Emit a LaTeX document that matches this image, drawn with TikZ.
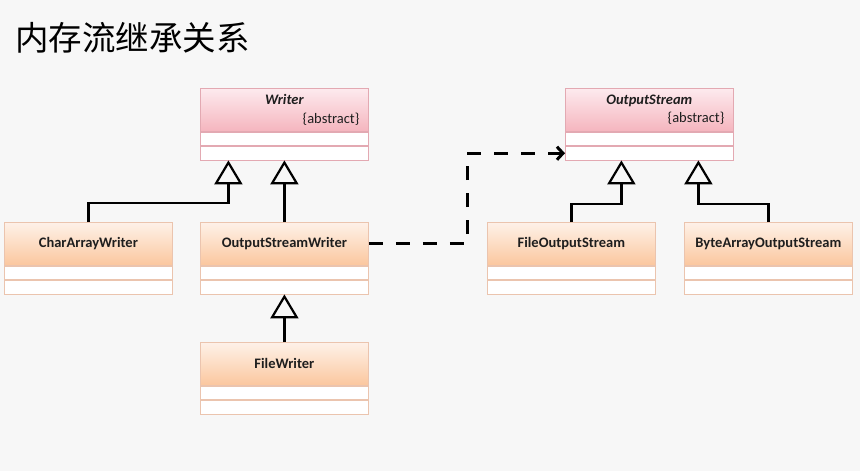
\documentclass[tikz,border=0pt]{standalone}
\usepackage{fontspec}
\setmainfont{Carlito}
\newfontfamily\cjk{Noto Sans CJK SC}
\usetikzlibrary{arrows.meta,calc}
\definecolor{bg}{HTML}{F7F7F7}
\definecolor{obord}{HTML}{EBC4AE}
\definecolor{otop}{HTML}{FEF1E8}
\definecolor{obot}{HTML}{FBC79E}
\definecolor{pbord}{HTML}{E3A9B2}
\definecolor{ptop}{HTML}{FDEAEE}
\definecolor{pbot}{HTML}{F5B5BE}
\definecolor{txt}{HTML}{1E1E1E}
\begin{document}
\begin{tikzpicture}[x=1pt,y=-1pt,
 hdr/.style={draw=#1bord, line width=0.8pt, top color=#1top, bottom color=#1bot,
   minimum width=168pt, minimum height=43pt, inner sep=0pt, anchor=north west,
   text=txt, font=\fontsize{14.5}{16}\selectfont\bfseries},
 row/.style={draw=#1bord, line width=0.8pt, fill=white, minimum width=168pt,
   minimum height=13.5pt, inner sep=0pt, anchor=north west},
 inh/.style={line width=2.6pt, -{Triangle[open, length=24pt, width=28pt, line width=2.2pt]}},
 dep/.style={line width=3pt, dash pattern=on 14pt off 13pt, -{Straight Barb[length=6pt,width=13pt,line width=3pt]}},
]
\fill[bg] (0,0) rectangle (860,471);
\useasboundingbox (0,0) rectangle (860,471);

\node[anchor=west, inner sep=0pt, text=black, font=\cjk\fontsize{33.5}{36}\selectfont] (title) at (15,38) {内存流继承关系};

% Writer (abstract)
\node[hdr=p] (w) at (200,88) {\parbox{150pt}{\centering\textit{Writer}\\[2pt]\hfill\mdseries\{abstract\}}};
\node[row=p] (w1) at (w.south west) {};
\node[row=p] (w2) at (w1.south west) {};

% OutputStream (abstract)
\node[hdr=p] (os) at (565,88) {\parbox{150pt}{\centering\textit{OutputStream}\\[2pt]\hfill\mdseries\{abstract\}}};
\node[row=p] (os1) at (os.south west) {};
\node[row=p] (os2) at (os1.south west) {};

% CharArrayWriter
\node[hdr=o] (caw) at (4,222) {CharArrayWriter};
\node[row=o] (caw1) at (caw.south west) {};
\node[row=o] (caw2) at (caw1.south west) {};

% OutputStreamWriter
\node[hdr=o] (osw) at (200,222) {OutputStreamWriter};
\node[row=o] (osw1) at (osw.south west) {};
\node[row=o] (osw2) at (osw1.south west) {};

% FileWriter
\node[hdr=o] (fw) at (200,342) {FileWriter};
\node[row=o] (fw1) at (fw.south west) {};
\node[row=o] (fw2) at (fw1.south west) {};

% FileOutputStream
\node[hdr=o] (fos) at (487,222) {FileOutputStream};
\node[row=o] (fos1) at (fos.south west) {};
\node[row=o] (fos2) at (fos1.south west) {};

% ByteArrayOutputStream
\node[hdr=o] (baos) at (684,222) {ByteArrayOutputStream};
\node[row=o] (baos1) at (baos.south west) {};
\node[row=o] (baos2) at (baos1.south west) {};

% inheritance
\draw[inh] (caw.north) -- ++(0,-19) -| ([xshift=-56pt]w2.south);
\draw[inh] (osw.north) -- (w2.south);
\draw[inh] (fw.north) -- (osw2.south);
\draw[inh] (fos.north) -- ++(0,-18) -| ([xshift=-28pt]os2.south);
\draw[inh] (baos.north) -- ++(0,-18) -| ([xshift=49pt]os2.south);

% dependency
\coordinate (bend) at (467,243);
\draw[dep] (osw.east) -- (bend |- osw.east) |- (os2.west);
\end{tikzpicture}
\end{document}
